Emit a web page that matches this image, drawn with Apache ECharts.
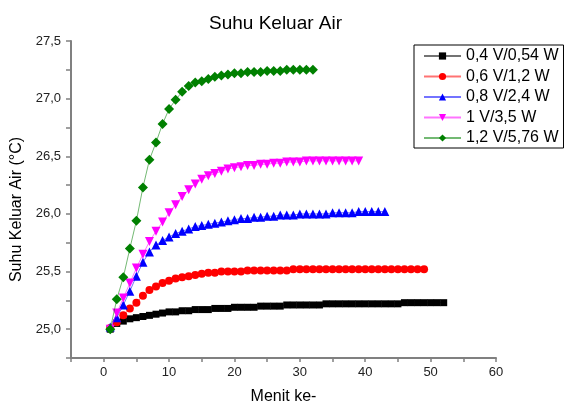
<!DOCTYPE html>
<html>
<head>
<meta charset="utf-8">
<script src="https://cdn.jsdelivr.net/npm/echarts@6/dist/echarts.min.js"></script>
<style>html,body{margin:0;padding:0;background:#fff;}#c{width:565px;height:407px;}</style>
</head>
<body>
<div id="c"></div>
<script>
const titleText = 'Suhu Keluar Air';
const xName = 'Menit ke-';
const yName = 'Suhu Keluar Air (°C)';
const seriesNames = ['0,4 V/0,54 W', '0,6 V/1,2 W', '0,8 V/2,4 W', '1 V/3,5 W', '1,2 V/5,76 W'];
const minutes = [1,2,3,4,5,6,7,8,9,10,11,12,13,14,15,16,17,18,19,20,21,22,23,24,25,26,27,28,29,30,31,32,33,34,35,36,37,38,39,40,41,42,43,44,45,46,47,48,49,50,51,52];
const black = [25.00,25.05,25.07,25.09,25.10,25.11,25.12,25.13,25.14,25.15,25.15,25.16,25.16,25.17,25.17,25.17,25.18,25.18,25.18,25.19,25.19,25.19,25.19,25.20,25.20,25.20,25.20,25.21,25.21,25.21,25.21,25.21,25.21,25.22,25.22,25.22,25.22,25.22,25.22,25.22,25.22,25.22,25.22,25.22,25.22,25.23,25.23,25.23,25.23,25.23,25.23,25.23];
const red = [25.01,25.06,25.12,25.18,25.23,25.29,25.34,25.37,25.40,25.42,25.44,25.45,25.46,25.47,25.48,25.49,25.49,25.50,25.50,25.50,25.50,25.51,25.51,25.51,25.51,25.51,25.51,25.51,25.52,25.52,25.52,25.52,25.52,25.52,25.52,25.52,25.52,25.52,25.52,25.52,25.52,25.52,25.52,25.52,25.52,25.52,25.52,25.52,25.52];
const blue = [25.02,25.10,25.21,25.33,25.46,25.58,25.67,25.73,25.77,25.80,25.83,25.85,25.87,25.89,25.90,25.91,25.92,25.93,25.94,25.95,25.96,25.96,25.97,25.97,25.98,25.98,25.99,25.99,25.99,26.00,26.00,26.00,26.00,26.00,26.01,26.01,26.01,26.01,26.02,26.02,26.02,26.02,26.02];
const magenta = [25.00,25.14,25.27,25.40,25.53,25.65,25.76,25.85,25.93,26.01,26.08,26.15,26.21,26.26,26.30,26.33,26.35,26.37,26.39,26.40,26.41,26.42,26.42,26.43,26.43,26.44,26.44,26.45,26.45,26.45,26.46,26.46,26.46,26.46,26.46,26.46,26.46,26.46,26.46];
const green = [25.00,25.26,25.45,25.70,25.94,26.23,26.47,26.62,26.78,26.91,26.99,27.06,27.11,27.14,27.15,27.17,27.19,27.20,27.21,27.22,27.22,27.23,27.23,27.23,27.24,27.24,27.24,27.25,27.25,27.25,27.25,27.25];
const yLabels = [25.0, 25.5, 26.0, 26.5, 27.0, 27.5];
const yTicks = [24.75, 25.0, 25.25, 25.5, 25.75, 26.0, 26.25, 26.5, 26.75, 27.0, 27.25, 27.5];
const xLabels = [0, 10, 20, 30, 40, 50, 60];
const xTicks = [-5, 0, 5, 10, 15, 20, 25, 30, 35, 40, 45, 50, 55, 60];

const allValues = [black, red, blue, magenta, green];
const colors = ['#000000', '#ff0000', '#0000ff', '#ff00ff', '#008000'];
const symbols = ['rect', 'circle', 'triangle', 'triangle', 'diamond'];
const symbolSizes = [7, 8, 9, 9, 10];
const symbolRotates = [0, 0, 0, 180, 0];

const FONT = 'Liberation Sans, Arial, sans-serif';
const axisColor = '#808080';
const labelColor = '#222';

const series = allValues.map((vals, k) => ({
  name: seriesNames[k],
  type: 'line',
  data: vals.map((v, i) => [minutes[i], v]),
  symbol: symbols[k],
  symbolSize: symbolSizes[k],
  symbolRotate: symbolRotates[k],
  showAllSymbol: true,
  itemStyle: { color: colors[k], borderWidth: 0 },
  lineStyle: { color: colors[k], width: 1, opacity: 0.55 },
  animation: false,
  z: 2 + k
}));

const chart = echarts.init(document.getElementById('c'), null, { renderer: 'canvas' });
chart.setOption({
  backgroundColor: '#ffffff',
  animation: false,
  textStyle: { fontFamily: FONT },
  title: {
    text: titleText, left: 204, top: 9,
    textStyle: { fontFamily: FONT, fontSize: 19, fontWeight: 'normal', color: '#000' }
  },
  legend: {
    orient: 'vertical', left: 414, top: 45,
    padding: [3, 5, 2, 9],
    borderColor: '#000', borderWidth: 1,
    itemWidth: 37, itemHeight: 9, itemGap: 4.5,
    textStyle: { fontFamily: FONT, fontSize: 16, color: '#000' },
    data: seriesNames
  },
  grid: { left: 71, right: 69, top: 41, bottom: 49, containLabel: false, outerBoundsMode: 'none' },
  xAxis: {
    type: 'value', min: -5, max: 60, interval: 5, position: 'bottom',
    name: xName, nameLocation: 'middle', nameGap: 31,
    nameTextStyle: { fontFamily: FONT, fontSize: 16, color: '#000' },
    axisLine: { show: true, onZero: false, lineStyle: { color: axisColor, width: 2 } },
    axisTick: { show: true, inside: false, length: 4, customValues: xTicks, lineStyle: { color: axisColor, width: 1.5 } },
    axisLabel: { customValues: xLabels, margin: 8, fontFamily: FONT, fontSize: 13, color: labelColor, formatter: v => String(v) },
    splitLine: { show: false }
  },
  yAxis: {
    type: 'value', min: 24.75, max: 27.5, interval: 0.25, position: 'left',
    name: yName, nameLocation: 'middle', nameGap: 46,
    nameTextStyle: { fontFamily: FONT, fontSize: 16, color: '#000', padding: [0, 20, 0, 0] },
    axisLine: { show: true, onZero: false, lineStyle: { color: axisColor, width: 2 } },
    axisTick: { show: true, length: 5, customValues: yTicks, lineStyle: { color: axisColor, width: 1.5 } },
    axisLabel: { customValues: yLabels, margin: 10, fontFamily: FONT, fontSize: 13, color: labelColor,
      formatter: v => v.toFixed(1).replace('.', ',') },
    splitLine: { show: false }
  },
  series: series
});
</script>
</body>
</html>
